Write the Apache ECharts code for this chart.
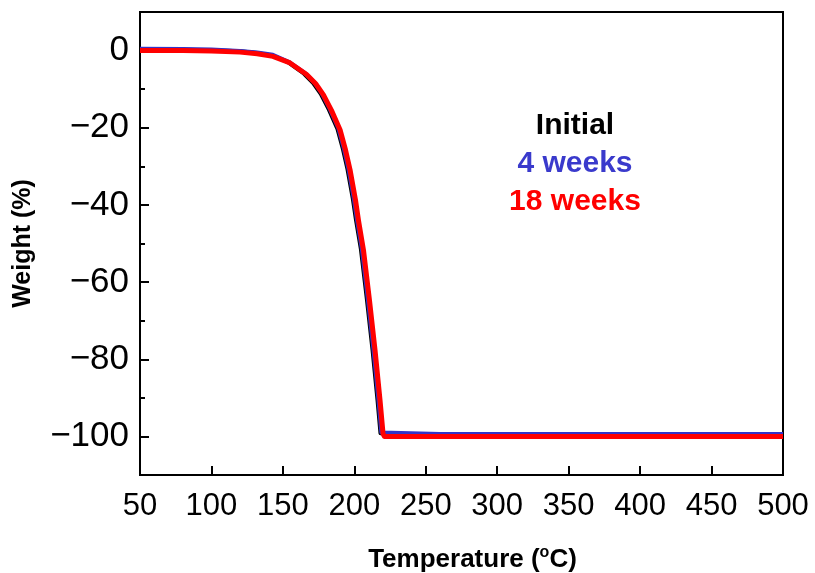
<!DOCTYPE html>
<html>
<head>
<meta charset="utf-8">
<script src="https://cdn.jsdelivr.net/npm/echarts@6/dist/echarts.min.js"></script>
<style>html,body{margin:0;padding:0;background:#fff}#c{width:815px;height:573px}</style>
</head>
<body>
<div id="c"></div>
<script>
// Data
const seriesNames = ['Initial', '4 weeks', '18 weeks'];
const tempInitial = [50, 80, 100, 120, 132, 143, 153.5, 164.8, 171.2, 176.5, 182.2, 188.2, 192, 195.2, 199, 201.1, 204.6, 208.8, 212.7, 216.2, 218.3, 219.2, 260, 300, 400, 500];
const weightInitial = [0.2, 0.2, 0.1, -0.2, -0.6, -1.3, -3.0, -6.0, -8.4, -11.2, -15.3, -20.3, -25.5, -30.7, -38.5, -43.8, -51.5, -64.5, -77.5, -90.5, -99.2, -99.7, -99.7, -99.7, -99.7, -99.7];
const temp4w = [50, 80, 100, 120, 132, 143, 154, 165.4, 171.8, 177.1, 182.8, 188.8, 192.6, 195.8, 199.6, 201.7, 205.2, 209.4, 213.3, 216.8, 218.9, 219.8, 260, 300, 400, 500];
const weight4w = [0.5, 0.4, 0.3, -0.1, -0.5, -1.1, -2.9, -5.8, -8.2, -11, -15.1, -20.1, -25.3, -30.5, -38.3, -43.6, -51.3, -64.3, -77.3, -90.3, -99, -99.4, -99.4, -99.4, -99.4, -99.4];
const temp18w = [50, 80, 100, 120, 132, 143, 155, 166.6, 173, 178.3, 184, 190, 193.8, 197, 200.8, 202.9, 206.4, 210.6, 214.5, 218, 220.1, 221, 260, 300, 400, 500];
const weight18w = [0, 0, -0.1, -0.4, -0.8, -1.5, -3.2, -6.2, -8.6, -11.4, -15.5, -20.5, -25.7, -30.9, -38.7, -44, -51.7, -64.7, -77.7, -90.7, -99.3, -100, -100, -100, -100, -100];
const xTicks = [50, 100, 150, 200, 250, 300, 350, 400, 450, 500];
const yMajorTicks = [-100, -80, -60, -40, -20, 0];
const yMinorTicks = [-110, -90, -70, -50, -30, -10, 10];

const zip = (a, b) => a.map((v, i) => [v, b[i]]);
const chart = echarts.init(document.getElementById('c'), null, {renderer: 'canvas'});
const FONT = 'Liberation Sans';
const lineCommon = {type: 'line', showSymbol: false, symbol: 'none', smooth: false};
chart.setOption({
  animation: false,
  backgroundColor: '#fff',
  grid: {left: 140, right: 32, top: 12, bottom: 98, outerBoundsMode: 'none', containLabel: false,
    show: true, borderColor: '#000', borderWidth: 2, backgroundColor: 'transparent'},
  xAxis: {
    type: 'value', min: 50, max: 500, interval: 50,
    axisLine: {show: true, onZero: false, lineStyle: {color: '#000', width: 2}},
    axisTick: {show: true, inside: true, length: 9, lineStyle: {color: '#000', width: 2}},
    splitLine: {show: false},
    axisLabel: {color: '#000', fontFamily: FONT, fontSize: 31, margin: 16, customValues: xTicks},
    name: 'Temperature ({s|o}C)', nameLocation: 'middle', nameGap: 70,
    nameTextStyle: {color: '#000', fontFamily: FONT, fontSize: 26, fontWeight: 'bold', padding: [0, 0, 0, 22],
      rich: {s: {fontFamily: FONT, fontSize: 16, fontWeight: 'bold', color: '#000', padding: [0, 0, 14, 0]}}}
  },
  yAxis: [{
    type: 'value', min: -110, max: 10, interval: 10,
    axisLine: {show: true, onZero: false, lineStyle: {color: '#000', width: 2}},
    axisTick: {show: true, inside: true, length: 9, lineStyle: {color: '#000', width: 2}, customValues: yMajorTicks},
    splitLine: {show: false},
    axisLabel: {color: '#000', fontFamily: FONT, fontSize: 35, margin: 11, customValues: yMajorTicks,
      formatter: v => String(v).replace('-', '\u2212')},
    name: 'Weight (%)', nameLocation: 'middle', nameGap: 104, nameRotate: 90,
    nameTextStyle: {color: '#000', fontFamily: FONT, fontSize: 25, fontWeight: 'bold'}
  }, {
    type: 'value', min: -110, max: 10, interval: 10, position: 'left',
    axisLine: {show: false, onZero: false},
    axisTick: {show: true, inside: true, length: 5, lineStyle: {color: '#000', width: 2}, customValues: yMinorTicks},
    axisLabel: {show: false},
    splitLine: {show: false}
  }],
  series: [
    Object.assign({name: seriesNames[0], data: zip(tempInitial, weightInitial), lineStyle: {color: '#000', width: 4, join: 'round'}}, lineCommon),
    Object.assign({name: seriesNames[1], data: zip(temp4w, weight4w), lineStyle: {color: '#3333c8', width: 4, join: 'round'}}, lineCommon),
    Object.assign({name: seriesNames[2], data: zip(temp18w, weight18w), lineStyle: {color: '#ff0000', width: 5, join: 'round'}}, lineCommon)
  ],
  graphic: [
    {type: 'text', x: 575, y: 126, style: {text: seriesNames[0], textAlign: 'center', textVerticalAlign: 'middle', fill: '#000', font: 'bold 30px "Liberation Sans"'}},
    {type: 'text', x: 575, y: 164, style: {text: seriesNames[1], textAlign: 'center', textVerticalAlign: 'middle', fill: '#3a3acc', font: 'bold 30px "Liberation Sans"'}},
    {type: 'text', x: 575, y: 202, style: {text: seriesNames[2], textAlign: 'center', textVerticalAlign: 'middle', fill: '#ff0000', font: 'bold 30px "Liberation Sans"'}}
  ]
});
</script>
</body>
</html>
